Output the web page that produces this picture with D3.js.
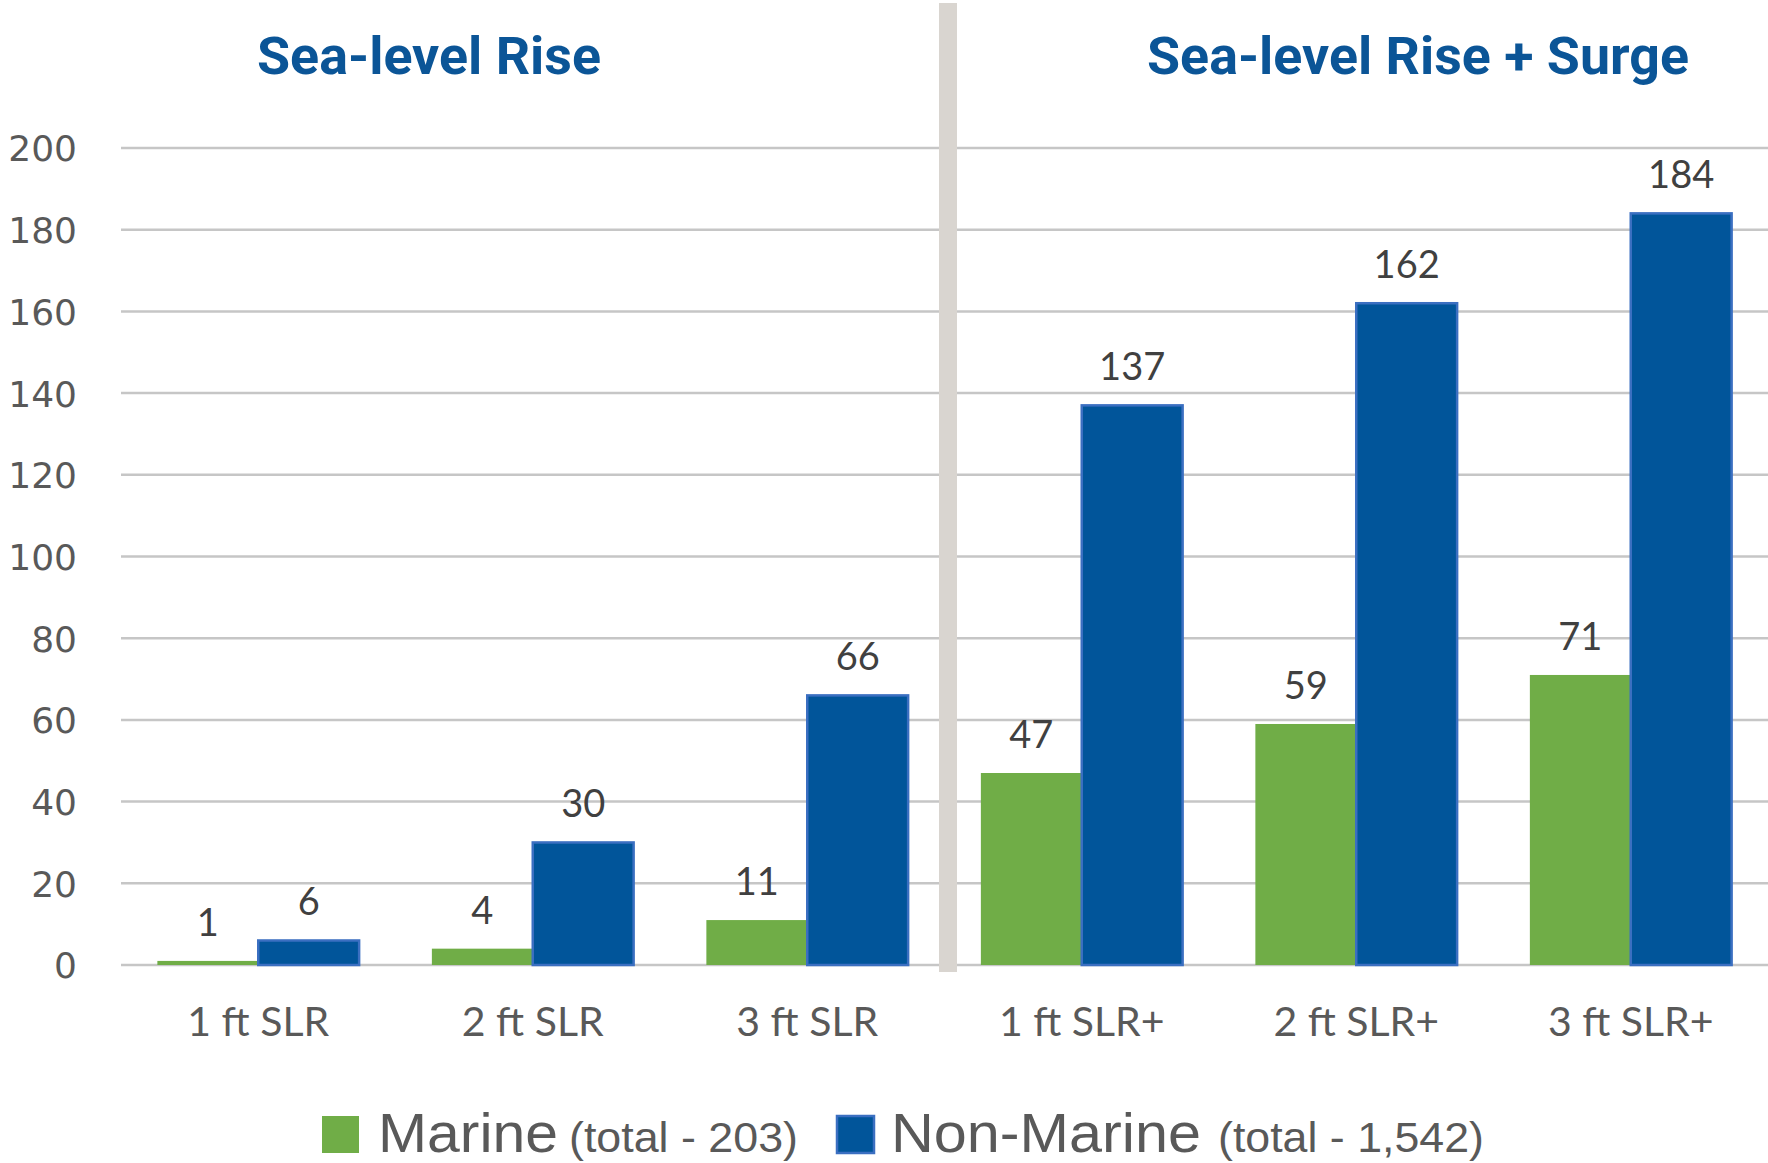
<!DOCTYPE html>
<html>
<head>
<meta charset="utf-8">
<script src="https://cdn.jsdelivr.net/npm/d3@7"></script>
<style>
  body { margin: 0; background: #fff; }
</style>
</head>
<body>
<div id="chart"></div>
<script>
let categories = ["1 ft SLR", "2 ft SLR", "3 ft SLR", "1 ft SLR+", "2 ft SLR+", "3 ft SLR+"];
let marine = [1, 4, 11, 47, 59, 71];
let nonMarine = [6, 30, 66, 137, 162, 184];
let yTicks = [0, 20, 40, 60, 80, 100, 120, 140, 160, 180, 200];
let seriesNames = ["Marine", "Non-Marine"];
let seriesTotals = ["(total - 203)", "(total - 1,542)"];
let panelTitles = ["Sea-level Rise", "Sea-level Rise + Surge"];

let width = 1768,
    height = 1163;

let svg = d3.select("#chart")
    .append("svg")
    .attr("width", width)
    .attr("height", height);

let x0 = d3.scaleBand()
    .domain(categories)
    .range([121, 1768])
    .paddingInner(0.265)
    .paddingOuter(0.1325);

let x1 = d3.scaleBand()
    .domain(seriesNames)
    .range([0, x0.bandwidth()]);

let y = d3.scaleLinear()
    .domain([0, 200])
    .range([965, 148]);

let color = d3.scaleOrdinal()
    .domain(seriesNames)
    .range(["#70ad47", "#01559a"]);

// gridlines
svg.append("g")
    .selectAll("line")
    .data(yTicks)
    .enter()
    .append("line")
    .attr("x1", 121)
    .attr("x2", width)
    .attr("y1", d => y(d))
    .attr("y2", d => y(d))
    .attr("stroke", "#c6c6c6")
    .attr("stroke-width", 2.5);

// y axis labels
let yAxis = svg.append("g")
    .attr("transform", "translate(77,0)")
    .call(d3.axisLeft(y).tickValues(yTicks).tickSize(0).tickPadding(0));
yAxis.select(".domain").remove();
yAxis.selectAll("text")
    .attr("fill", "#595959")
    .attr("dy", "0.36em")
    .style("font-family", "'DejaVu Sans', sans-serif")
    .style("font-size", "36px");

// x axis labels
let xAxis = svg.append("g")
    .attr("transform", "translate(0,1036)")
    .call(d3.axisBottom(x0).tickSize(0).tickPadding(0));
xAxis.select(".domain").remove();
xAxis.selectAll("text")
    .attr("fill", "#595959")
    .attr("dy", 0)
    .style("font-family", "Lato, sans-serif")
    .style("font-size", "41px");

let rows = categories.map(function(c, i) {
    return { cat: c, values: [
        { key: "Marine", value: marine[i] },
        { key: "Non-Marine", value: nonMarine[i] }
    ] };
});

let groups = svg.append("g")
    .selectAll("g")
    .data(rows)
    .enter()
    .append("g")
    .attr("transform", d => `translate(${x0(d.cat)},0)`);

groups.selectAll("rect")
    .data(d => d.values)
    .enter()
    .append("rect")
    .attr("x", d => x1(d.key))
    .attr("y", d => y(d.value))
    .attr("width", x1.bandwidth())
    .attr("height", d => y(0) - y(d.value))
    .attr("fill", d => color(d.key))
    .attr("stroke", d => d == "Marine" || d.key == "Marine" ? "none" : "#3b6fc1")
    .attr("stroke-width", 2.5);

groups.selectAll("text")
    .data(d => d.values)
    .enter()
    .append("text")
    .attr("x", d => x1(d.key) + x1.bandwidth() / 2)
    .attr("y", d => y(d.value) - 25)
    .attr("text-anchor", "middle")
    .attr("fill", "#404040")
    .style("font-family", "Lato, sans-serif")
    .style("font-size", "38px")
    .text(d => d.value);

// divider between the two panels
svg.append("rect")
    .attr("x", 939)
    .attr("y", 3)
    .attr("width", 18)
    .attr("height", 969)
    .attr("fill", "#d9d5d0");

// panel titles
let titleX = [429, 1418],
    titleW = [344, 542];
svg.append("g")
    .selectAll("text")
    .data(panelTitles)
    .enter()
    .append("text")
    .attr("x", (d, i) => titleX[i])
    .attr("y", 74)
    .attr("text-anchor", "middle")
    .attr("fill", "#0b5597")
    .attr("textLength", (d, i) => titleW[i])
    .attr("lengthAdjust", "spacingAndGlyphs")
    .style("font-family", "Roboto, sans-serif")
    .style("font-weight", "bold")
    .style("font-size", "51px")
    .text(d => d);

// legend
let legendSquareX = [322, 837],
    nameX = [378, 891],
    nameW = [180, 310],
    totalX = [569, 1218],
    totalW = [229, 266];

let legend = svg.append("g")
    .selectAll("g")
    .data(seriesNames)
    .enter()
    .append("g");

legend.append("rect")
    .attr("x", (d, i) => legendSquareX[i])
    .attr("y", 1116)
    .attr("width", 37)
    .attr("height", 37)
    .attr("fill", d => color(d))
    .attr("stroke", d => d == "Marine" ? "none" : "#3b6fc1")
    .attr("stroke-width", 2.5);

legend.append("text")
    .attr("x", (d, i) => nameX[i])
    .attr("y", 1152)
    .attr("fill", "#595959")
    .attr("textLength", (d, i) => nameW[i])
    .attr("lengthAdjust", "spacingAndGlyphs")
    .style("font-family", "'Liberation Sans Narrow', 'Liberation Sans', sans-serif")
    .style("font-size", "56px")
    .text(d => d);

legend.append("text")
    .attr("x", (d, i) => totalX[i])
    .attr("y", 1152)
    .attr("fill", "#595959")
    .attr("textLength", (d, i) => totalW[i])
    .attr("lengthAdjust", "spacingAndGlyphs")
    .style("font-family", "'Liberation Sans Narrow', 'Liberation Sans', sans-serif")
    .style("font-size", "42px")
    .text((d, i) => seriesTotals[i]);
</script>
</body>
</html>
